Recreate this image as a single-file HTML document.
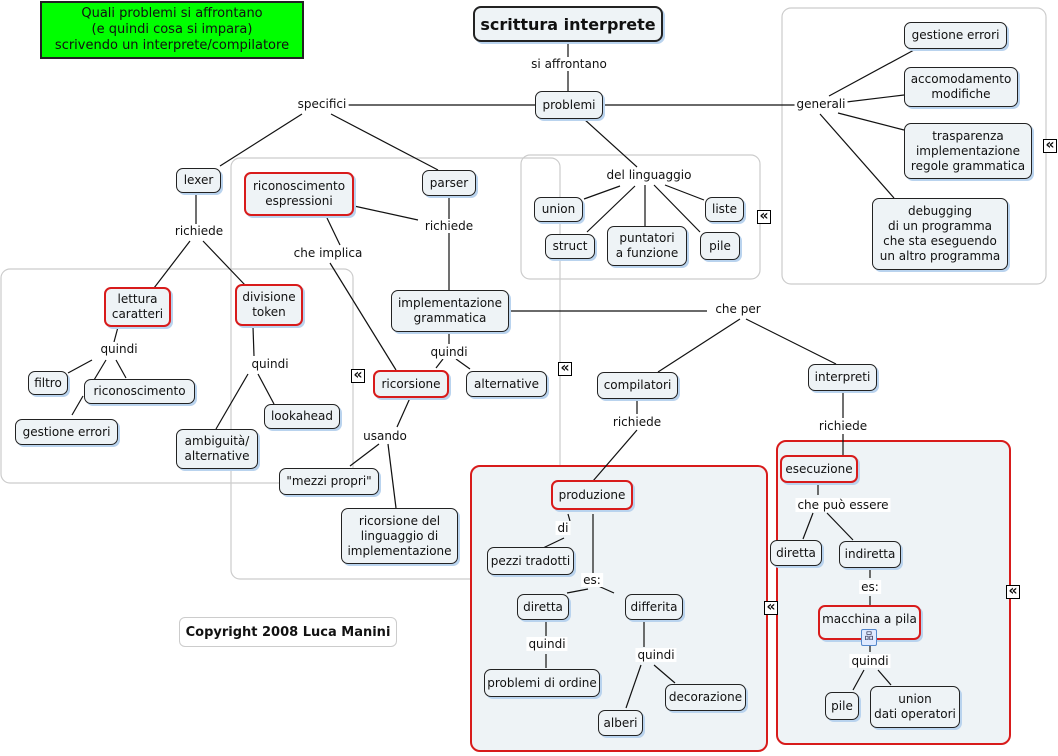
<!DOCTYPE html>
<html><head><meta charset="utf-8"><style>
body{margin:0;width:1058px;height:756px;background:#fff;position:relative;overflow:hidden;font-family:"DejaVu Sans","Liberation Sans",sans-serif;font-size:12px;color:#111}
.n{position:absolute;box-sizing:border-box;border:1.3px solid #222;border-radius:7px;background:#eef3f6;display:flex;align-items:center;justify-content:center;text-align:center;line-height:15px;box-shadow:2px 2px 0 #b9d3ee;white-space:nowrap}
.r{border:2px solid #d81b1b}
.l{position:absolute;background:#fff;transform:translate(-50%,-50%);white-space:nowrap;padding:0 2px;line-height:14px}
.c{position:absolute;width:12px;height:12px;border:1px solid #000;font-size:14px;line-height:11px;text-align:center;background:#fff;font-weight:bold;overflow:hidden}
</style></head><body>
<svg width="1058" height="756" style="position:absolute;left:0;top:0">
<g fill="none" stroke="#ccc" stroke-width="1.2">
<rect x="782" y="8" width="264" height="276" rx="9"/>
<rect x="521" y="155" width="239" height="124" rx="9"/>
<rect x="231" y="158" width="329" height="421" rx="9"/>
<rect x="1" y="269" width="352" height="214" rx="9"/>
</g>
<g fill="#eef3f6" stroke="#d81b1b" stroke-width="2">
<rect x="471" y="466" width="296" height="285" rx="9"/>
<rect x="777" y="441" width="233" height="303" rx="9"/>
</g>
<g stroke="#111" stroke-width="1.2">
<line x1="568" y1="42" x2="568" y2="91"/>
<line x1="345" y1="105" x2="535" y2="105"/>
<line x1="603" y1="105" x2="800" y2="105"/>
<line x1="302" y1="114" x2="220" y2="166"/>
<line x1="331" y1="114" x2="438" y2="170"/>
<line x1="584" y1="119" x2="637" y2="167"/>
<line x1="829" y1="96" x2="914" y2="50"/>
<line x1="838" y1="103" x2="904" y2="95"/>
<line x1="838" y1="113" x2="904" y2="130"/>
<line x1="820" y1="114" x2="894" y2="198"/>
<line x1="620" y1="186" x2="584" y2="199"/>
<line x1="635" y1="186" x2="587" y2="232"/>
<line x1="645" y1="185" x2="645" y2="226"/>
<line x1="654" y1="185" x2="700" y2="232"/>
<line x1="665" y1="185" x2="704" y2="200"/>
<line x1="196" y1="193" x2="196" y2="224"/>
<line x1="190" y1="241" x2="154" y2="288"/>
<line x1="203" y1="241" x2="245" y2="285"/>
<line x1="449" y1="196" x2="449" y2="290"/>
<line x1="354" y1="206" x2="418" y2="220"/>
<line x1="327" y1="218" x2="340" y2="245"/>
<line x1="330" y1="263" x2="396" y2="370"/>
<line x1="509" y1="311" x2="707" y2="311"/>
<line x1="740" y1="319" x2="658" y2="372"/>
<line x1="746" y1="319" x2="836" y2="364"/>
<line x1="118" y1="327" x2="114" y2="342"/>
<line x1="92" y1="360" x2="68" y2="373"/>
<line x1="106" y1="360" x2="94" y2="380"/>
<line x1="116" y1="360" x2="126" y2="378"/>
<line x1="83" y1="396" x2="72" y2="415"/>
<line x1="253" y1="327" x2="254" y2="356"/>
<line x1="248" y1="374" x2="216" y2="429"/>
<line x1="258" y1="374" x2="274" y2="404"/>
<line x1="449" y1="332" x2="449" y2="344"/>
<line x1="443" y1="359" x2="436" y2="368"/>
<line x1="456" y1="359" x2="470" y2="369"/>
<line x1="410" y1="398" x2="397" y2="427"/>
<line x1="379" y1="444" x2="350" y2="466"/>
<line x1="388" y1="444" x2="396" y2="508"/>
<line x1="637" y1="400" x2="637" y2="414"/>
<line x1="637" y1="430" x2="593" y2="481"/>
<line x1="843" y1="392" x2="843" y2="418"/>
<line x1="843" y1="434" x2="843" y2="455"/>
<line x1="568" y1="514" x2="570" y2="521"/>
<line x1="564" y1="538" x2="543" y2="548"/>
<line x1="593" y1="514" x2="593" y2="575"/>
<line x1="588" y1="589" x2="567" y2="593"/>
<line x1="596" y1="585" x2="614" y2="593"/>
<line x1="546" y1="622" x2="546" y2="636"/>
<line x1="546" y1="654" x2="546" y2="668"/>
<line x1="644" y1="622" x2="644" y2="647"/>
<line x1="641" y1="665" x2="626" y2="708"/>
<line x1="654" y1="665" x2="675" y2="683"/>
<line x1="818" y1="483" x2="818" y2="495"/>
<line x1="813" y1="513" x2="803" y2="539"/>
<line x1="827" y1="513" x2="853" y2="540"/>
<line x1="870" y1="567" x2="870" y2="578"/>
<line x1="870" y1="596" x2="870" y2="605"/>
<line x1="870" y1="645" x2="870" y2="652"/>
<line x1="864" y1="670" x2="853" y2="690"/>
<line x1="878" y1="670" x2="891" y2="685"/>
</g>
</svg>
<div style="position:absolute;left:40px;top:1px;width:264px;height:58px;box-sizing:border-box;background:#00ff00;border:2px solid #222;text-align:center;font-size:13px;line-height:16px;padding-top:3px">Quali problemi si affrontano<br>(e quindi cosa si impara)<br>scrivendo un interprete/compilatore</div>
<div class="n" style="left:473px;top:6px;width:190px;height:36px;border-width:2px;font-weight:bold;font-size:16px;border-radius:8px">scrittura interprete</div>
<div class="l" style="left:569px;top:64px">si affrontano</div>
<div class="n" style="left:535px;top:91px;width:68px;height:28px">problemi</div>
<div class="l" style="left:322px;top:104px">specifici</div>
<div class="l" style="left:821px;top:104px">generali</div>
<div class="n" style="left:904px;top:22px;width:103px;height:27px">gestione errori</div>
<div class="n" style="left:904px;top:67px;width:114px;height:40px">accomodamento<br>modifiche</div>
<div class="n" style="left:904px;top:123px;width:128px;height:56px">trasparenza<br>implementazione<br>regole grammatica</div>
<div class="n" style="left:872px;top:198px;width:136px;height:72px">debugging<br>di un programma<br>che sta eseguendo<br>un altro programma</div>
<div class="l" style="left:649px;top:175px">del linguaggio</div>
<div class="n" style="left:534px;top:197px;width:49px;height:25px">union</div>
<div class="n" style="left:545px;top:234px;width:50px;height:25px">struct</div>
<div class="n" style="left:607px;top:226px;width:80px;height:40px">puntatori<br>a funzione</div>
<div class="n" style="left:700px;top:232px;width:40px;height:28px">pile</div>
<div class="n" style="left:705px;top:197px;width:39px;height:25px">liste</div>
<div class="n" style="left:176px;top:168px;width:45px;height:25px">lexer</div>
<div class="n" style="left:422px;top:170px;width:54px;height:26px">parser</div>
<div class="n r" style="left:244px;top:172px;width:110px;height:44px">riconoscimento<br>espressioni</div>
<div class="l" style="left:199px;top:231px">richiede</div>
<div class="l" style="left:449px;top:226px">richiede</div>
<div class="l" style="left:328px;top:253px">che implica</div>
<div class="n r" style="left:104px;top:287px;width:67px;height:40px">lettura<br>caratteri</div>
<div class="n r" style="left:235px;top:284px;width:68px;height:42px">divisione<br>token</div>
<div class="n" style="left:391px;top:290px;width:118px;height:42px">implementazione<br>grammatica</div>
<div class="l" style="left:738px;top:309px">che per</div>
<div class="l" style="left:119px;top:349px">quindi</div>
<div class="n" style="left:28px;top:371px;width:40px;height:24px">filtro</div>
<div class="n" style="left:84px;top:379px;width:111px;height:25px">riconoscimento</div>
<div class="n" style="left:15px;top:419px;width:103px;height:26px">gestione errori</div>
<div class="l" style="left:270px;top:364px">quindi</div>
<div class="n" style="left:264px;top:404px;width:76px;height:25px">lookahead</div>
<div class="n" style="left:176px;top:429px;width:82px;height:40px">ambiguità/<br>alternative</div>
<div class="l" style="left:449px;top:352px">quindi</div>
<div class="n r" style="left:373px;top:370px;width:76px;height:28px">ricorsione</div>
<div class="n" style="left:466px;top:371px;width:81px;height:26px">alternative</div>
<div class="l" style="left:385px;top:436px">usando</div>
<div class="n" style="left:279px;top:468px;width:100px;height:27px">"mezzi propri"</div>
<div class="n" style="left:341px;top:508px;width:117px;height:56px">ricorsione del<br>linguaggio di<br>implementazione</div>
<div class="n" style="left:597px;top:372px;width:81px;height:27px">compilatori</div>
<div class="n" style="left:808px;top:364px;width:69px;height:27px">interpreti</div>
<div class="l" style="left:637px;top:422px">richiede</div>
<div class="l" style="left:843px;top:426px">richiede</div>
<div class="n r" style="left:551px;top:480px;width:82px;height:30px">produzione</div>
<div class="l" style="left:563px;top:528px">di</div>
<div class="n" style="left:487px;top:547px;width:87px;height:28px">pezzi tradotti</div>
<div class="l" style="left:592px;top:580px">es:</div>
<div class="n" style="left:517px;top:594px;width:52px;height:26px">diretta</div>
<div class="n" style="left:625px;top:594px;width:58px;height:26px">differita</div>
<div class="l" style="left:547px;top:644px">quindi</div>
<div class="n" style="left:484px;top:669px;width:116px;height:28px">problemi di ordine</div>
<div class="l" style="left:656px;top:655px">quindi</div>
<div class="n" style="left:665px;top:684px;width:81px;height:27px">decorazione</div>
<div class="n" style="left:598px;top:710px;width:45px;height:26px">alberi</div>
<div class="n r" style="left:780px;top:455px;width:78px;height:28px">esecuzione</div>
<div class="l" style="left:843px;top:505px">che può essere</div>
<div class="n" style="left:770px;top:540px;width:52px;height:26px">diretta</div>
<div class="n" style="left:839px;top:541px;width:62px;height:27px">indiretta</div>
<div class="l" style="left:870px;top:587px">es:</div>
<div class="n r" style="left:818px;top:605px;width:103px;height:35px;padding-bottom:6px">macchina a pila</div>
<div style="position:absolute;left:861px;top:629px;width:14px;height:15px;border:1px solid #5588cc;background:#dfeaff;border-radius:2px;font-size:9px;line-height:14px;text-align:center;color:#224">品</div>
<div class="l" style="left:870px;top:661px">quindi</div>
<div class="n" style="left:825px;top:692px;width:34px;height:28px">pile</div>
<div class="n" style="left:870px;top:686px;width:90px;height:42px">union<br>dati operatori</div>
<div style="position:absolute;left:179px;top:617px;width:218px;height:30px;box-sizing:border-box;border:1px solid #ccc;border-radius:6px;font-weight:bold;font-size:13px;display:flex;align-items:center;justify-content:center">Copyright 2008 Luca Manini</div>
<div class="c" style="left:1043px;top:139px">«</div>
<div class="c" style="left:757px;top:210px">«</div>
<div class="c" style="left:351px;top:369px">«</div>
<div class="c" style="left:558px;top:362px">«</div>
<div class="c" style="left:764px;top:601px">«</div>
<div class="c" style="left:1006px;top:585px">«</div>
</body></html>
